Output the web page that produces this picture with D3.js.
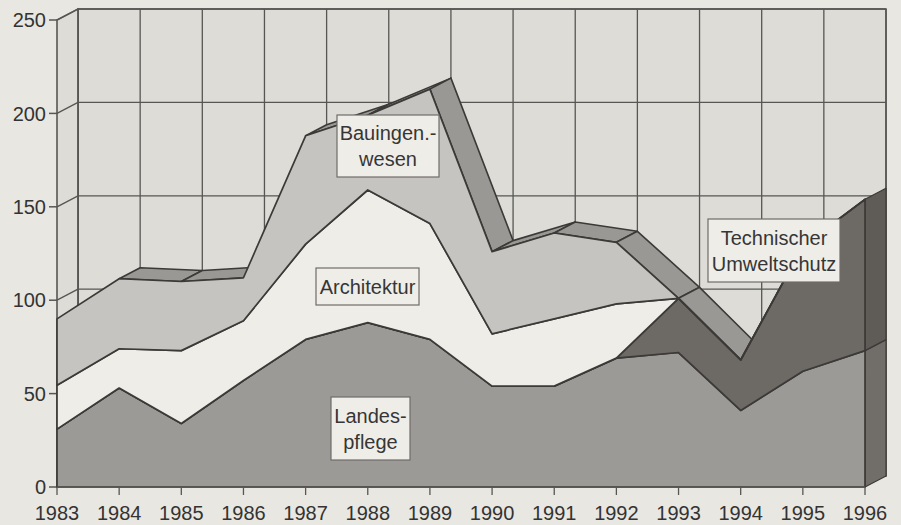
<!DOCTYPE html>
<html><head><meta charset="utf-8">
<script src="https://cdn.jsdelivr.net/npm/d3@7"></script>
<style>html,body{margin:0;padding:0;background:#e9e7e1;} svg{display:block;}</style>
</head><body><svg id="c" width="901" height="525"></svg>
<script>
// ---- data ----
const years = [1983,1984,1985,1986,1987,1988,1989,1990,1991,1992,1993,1994,1995,1996];
const landespflege = [31,53,34,57,79,88,79,54,54,69,72,41,62,73];
const umweltschutz = [0,0,0,0,0,0,0,0,0,0,29,27,67,81];
const architektur  = [23.5,21,39,32,51,71,62,28,36,29,0,0,0,0];
const bauingenieur = [35.5,37.5,37,23,58,40,72,44,46,33,0,0,0,0];
const yTicks = [0,50,100,150,200,250];
const seriesKeys = ["landespflege","umweltschutz","architektur","bauingenieur"];
const labels = [
  {lines:["Bauingen.-","wesen"], box:[337,115,102,62]},
  {lines:["Architektur"], box:[316,268,103,37]},
  {lines:["Landes-","pflege"], box:[331,397,79,63]},
  {lines:["Technischer","Umweltschutz"], box:[708,219,132,63]}
];

// ---- styles ----
const FONT = "'Liberation Sans', Arial, sans-serif";
const frontFill = {landespflege:"#9c9a97", umweltschutz:"#6d6965", architektur:"#eeede8", bauingenieur:"#c5c4c0"};
const sideFill = {landespflege:"#716e6a", umweltschutz:"#5f5b57", architektur:"#b0afab", bauingenieur:"#8f8e8a"};
const topFill = "#9a9895";
const lineCol = "#3c3a38";

const svg = d3.select("#c");
const x = d3.scalePoint().domain(years).range([57,865]);
const y = d3.scaleLinear().domain([0,250]).range([487,20]);
const DX = 21, DY = -11;

const table = years.map((yr,i)=>({year:yr, landespflege:landespflege[i], umweltschutz:umweltschutz[i], architektur:architektur[i], bauingenieur:bauingenieur[i]}));
const stacked = d3.stack().keys(seriesKeys)(table);

svg.append("rect").attr("width",901).attr("height",525).attr("fill","#e9e7e1");

const xl = x(years[0]), xr = x(years[years.length-1]);
const wallFill = "#dddcd7", gridCol = "#575654";
// back wall
svg.append("path")
  .attr("d",`M${xl+DX},${y(250)+DY}H${xr+DX}V${y(0)+DY}H${xl+DX}Z`)
  .attr("fill",wallFill).attr("stroke",gridCol).attr("stroke-width",1.6);
// left side wall
svg.append("path")
  .attr("d",`M${xl},${y(250)}L${xl+DX},${y(250)+DY}L${xl+DX},${y(0)+DY}L${xl},${y(0)}Z`)
  .attr("fill",wallFill).attr("stroke",gridCol).attr("stroke-width",1.6);
// grid on walls
const g = svg.append("g").attr("stroke",gridCol).attr("stroke-width",1.3).attr("fill","none");
yTicks.forEach(v=>{
  g.append("line").attr("x1",xl+DX).attr("x2",xr+DX).attr("y1",y(v)+DY).attr("y2",y(v)+DY);
  g.append("line").attr("x1",xl).attr("y1",y(v)).attr("x2",xl+DX).attr("y2",y(v)+DY);
  g.append("line").attr("x1",xl-8).attr("x2",xl).attr("y1",y(v)).attr("y2",y(v)).attr("stroke-width",1.5);
});
years.forEach(yr=>{
  g.append("line").attr("x1",x(yr)+DX).attr("x2",x(yr)+DX).attr("y1",y(250)+DY).attr("y2",y(0)+DY);
});

// top surface of the stack
const topSeries = stacked[stacked.length-1];
const n = years.length;
for(let i=0;i<n-1;i++){
  const p1=[x(years[i]), y(topSeries[i][1])], p2=[x(years[i+1]), y(topSeries[i+1][1])];
  const vx=p2[0]-p1[0], vy=p2[1]-p1[1];
  const cross = vx*DY - vy*DX;
  if(cross >= 0) continue;
  svg.append("path")
    .attr("d",`M${p1[0]},${p1[1]}L${p2[0]},${p2[1]}L${p2[0]+DX},${p2[1]+DY}L${p1[0]+DX},${p1[1]+DY}Z`)
    .attr("fill",topFill).attr("stroke",lineCol).attr("stroke-width",1.6).attr("stroke-linejoin","round");
}
// right side faces
stacked.forEach(s=>{
  const d=s[n-1]; if(d[1]<=d[0]) return;
  const xx = x(years[n-1]);
  svg.append("path")
    .attr("d",`M${xx},${y(d[0])}L${xx},${y(d[1])}L${xx+DX},${y(d[1])+DY}L${xx+DX},${y(d[0])+DY}Z`)
    .attr("fill",sideFill[s.key]).attr("stroke",lineCol).attr("stroke-width",1.2).attr("stroke-linejoin","round");
});
// front faces
const area = d3.area().x(d=>x(d.data.year)).y0(d=>y(d[0])).y1(d=>y(d[1]));
stacked.forEach(s=>{
  svg.append("path").attr("d",area(s)).attr("fill",frontFill[s.key])
    .attr("stroke",lineCol).attr("stroke-width",1.7).attr("stroke-linejoin","round");
});
// front bottom axis and x ticks
svg.append("line").attr("x1",xl).attr("x2",xr).attr("y1",y(0)).attr("y2",y(0)).attr("stroke",gridCol).attr("stroke-width",1.5);
years.forEach(yr=>{
  svg.append("line").attr("x1",x(yr)).attr("x2",x(yr)).attr("y1",y(0)).attr("y2",y(0)+8).attr("stroke",gridCol).attr("stroke-width",1.3);
});
// y tick labels
yTicks.forEach(v=>{
  svg.append("text").attr("x",46).attr("y",y(v)).attr("dy","0.36em").attr("text-anchor","end")
    .attr("font-family",FONT).attr("font-size",20).attr("fill","#333").text(v);
});
// x labels
years.forEach(yr=>{
  svg.append("text").attr("x",x(yr)).attr("y",513).attr("dy","0.36em").attr("text-anchor","middle")
    .attr("font-family",FONT).attr("font-size",20).attr("fill","#333").text(yr);
});
// series labels
labels.forEach(l=>{
  const [bx,by,bw,bh]=l.box;
  svg.append("rect").attr("x",bx).attr("y",by).attr("width",bw).attr("height",bh)
    .attr("fill","#efede8").attr("stroke","#6e6c6a").attr("stroke-width",1.2);
  const lh = 26, cy = by+bh/2 - (l.lines.length-1)*lh/2;
  l.lines.forEach((t,j)=>{
    svg.append("text").attr("x",bx+bw/2).attr("y",cy+j*lh).attr("dy","0.36em").attr("text-anchor","middle")
      .attr("font-family",FONT).attr("font-size",20).attr("fill","#363636").text(t);
  });
});
</script></body></html>
